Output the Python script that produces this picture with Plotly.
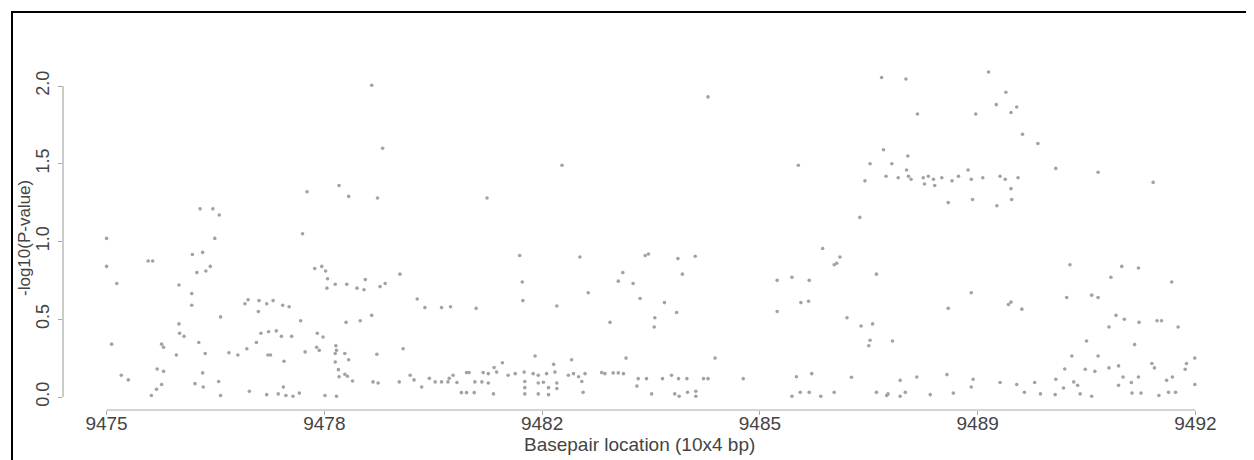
import plotly.graph_objects as go

# ---- data ----
bp_location = [
    # 9475 - 9478
    9475.00, 9475.00, 9475.16, 9475.08, 9475.23, 9475.34, 9475.65, 9475.72, 9475.70, 9475.78,
    9475.86, 9475.79, 9475.89, 9475.86, 9475.89, 9476.09, 9476.13, 9476.13, 9476.14, 9476.21,
    9476.33, 9476.33, 9476.34, 9476.41, 9476.50, 9476.55, 9476.62, 9476.69, 9476.46, 9476.66,
    9476.76, 9476.78, 9476.44, 9476.54, 9476.50, 9476.38, 9476.51, 9476.75, 9476.78, 9476.91,
    9477.05, 9477.19, 9477.23, 9477.16, 9477.21, 9477.38, 9477.50, 9477.60, 9477.75, 9477.85,
    9477.37, 9477.41, 9477.53, 9477.65, 9477.73, 9477.89, 9477.34, 9477.52, 9477.56, 9477.77,
    9477.76, 9477.50, 9477.68, 9477.80, 9477.91, 9478.01,
    # 9478 - 9481
    9478.03, 9478.06, 9478.13, 9478.10, 9478.29, 9478.38, 9478.28, 9478.32, 9478.25, 9478.36,
    9478.42, 9478.45, 9478.44, 9478.57, 9478.41, 9478.59, 9478.58, 9478.59, 9478.57, 9478.57,
    9478.62, 9478.63, 9478.72, 9478.76, 9478.84, 9478.74, 9478.96, 9478.72, 9478.78, 9478.63,
    9478.78, 9478.75, 9478.91, 9479.02, 9479.04, 9479.14, 9479.31, 9479.23, 9479.27, 9479.35,
    9479.14, 9479.22, 9479.16, 9479.24, 9479.58, 9479.63, 9479.57, 9479.74, 9479.80, 9479.92,
    9479.85, 9479.97, 9480.23, 9480.37, 9480.77, 9480.04, 9480.13, 9480.23, 9480.33, 9480.35,
    9480.41, 9480.47, 9480.62, 9480.66, 9480.88, 9480.75, 9480.86, 9480.54, 9480.62, 9480.74,
    # 9481 - 9482.5
    9480.94, 9482.11, 9481.45, 9481.49, 9481.50, 9482.39, 9482.03, 9481.69, 9482.26, 9481.18,
    9481.05, 9481.98, 9480.96, 9481.09, 9481.27, 9481.38, 9481.52, 9481.66, 9481.74, 9481.87,
    9482.00, 9482.21, 9482.29, 9482.37, 9480.96, 9481.53, 9481.74, 9481.82, 9482.03, 9482.42,
    9481.53, 9481.90, 9482.03, 9481.04, 9481.53, 9481.74, 9481.90,
    # 9482.5 - 9487
    9484.39, 9487.10, 9485.80, 9487.13, 9486.92, 9486.84, 9487.17, 9486.76, 9486.18, 9486.45,
    9486.40, 9486.36, 9487.02, 9485.47, 9485.70, 9485.97, 9485.84, 9485.96, 9485.47, 9486.56,
    9486.78, 9486.96, 9486.92, 9486.90, 9483.41, 9483.46, 9483.92, 9484.19, 9483.06, 9482.99,
    9483.22, 9483.99, 9482.52, 9483.33, 9483.71, 9483.90, 9482.86, 9483.56, 9483.55, 9483.11,
    9484.50, 9482.47, 9482.73, 9482.78, 9482.91, 9482.99, 9483.07, 9483.30, 9483.43, 9483.68,
    9483.82, 9483.93, 9484.06, 9484.32, 9484.39, 9484.94, 9485.77, 9486.01, 9486.63, 9482.44,
    9483.28, 9483.51, 9483.87, 9483.94, 9484.07, 9484.20, 9484.20, 9485.70, 9485.83, 9485.97,
    9486.15, 9486.36, 9487.02, 9487.18,
    # 9487 - 9492
    9487.48, 9488.77, 9487.66, 9488.57, 9489.04, 9488.89, 9489.21, 9489.12, 9489.30, 9489.54,
    9489.82, 9490.48, 9491.34, 9487.26, 9487.51, 9487.36, 9487.52, 9487.56, 9487.75, 9487.83,
    9487.91, 9488.04, 9488.20, 9488.30, 9488.50, 9488.68, 9488.95, 9489.03, 9489.23, 9487.49,
    9488.45, 9487.77, 9487.93, 9489.12, 9489.13, 9488.14, 9488.52, 9488.90, 9490.04, 9490.85,
    9491.11, 9490.68, 9491.63, 9489.99, 9490.38, 9490.48, 9488.50, 9488.14, 9489.08, 9489.12,
    9489.29, 9487.27, 9490.76, 9490.89, 9491.12, 9491.40, 9491.47, 9491.73, 9490.65, 9490.30,
    9491.05, 9490.07, 9490.48, 9489.96, 9490.28, 9490.43, 9490.65, 9490.80, 9491.32, 9491.36,
    9491.86, 9491.99, 9491.84, 9487.39, 9487.65, 9488.12, 9488.53, 9488.50, 9488.95, 9489.21,
    9489.49, 9489.82, 9489.94, 9490.10, 9490.16, 9490.87, 9491.00, 9491.11, 9490.80, 9491.55,
    9491.64, 9491.99, 9487.20, 9487.39, 9487.47, 9487.86, 9488.22, 9489.33, 9489.58, 9489.81,
    9490.20, 9490.38, 9491.01, 9491.15, 9491.43, 9491.58, 9491.69,
]

neg_log10_p = [
    # 9475 - 9478
    1.02, 0.84, 0.73, 0.34, 0.14, 0.11, 0.875, 0.875, 0.01, 0.05,
    0.08, 0.18, 0.165, 0.34, 0.32, 0.27, 0.47, 0.72, 0.41, 0.39,
    0.59, 0.665, 0.916, 0.80, 0.93, 0.81, 0.84, 1.02, 1.21, 1.21,
    1.17, 0.515, 0.35, 0.28, 0.155, 0.086, 0.064, 0.10, 0.01, 0.285,
    0.27, 0.31, 0.037, 0.60, 0.625, 0.62, 0.60, 0.62, 0.59, 0.58,
    0.55, 0.41, 0.42, 0.425, 0.39, 0.39, 0.35, 0.27, 0.27, 0.23,
    0.064, 0.015, 0.02, 0.01, 0.005, 0.025,
    # 9478 - 9481
    0.49, 1.05, 1.32, 0.29, 0.41, 0.386, 0.32, 0.30, 0.826, 0.84,
    0.81, 0.76, 0.70, 0.725, 0.01, 0.005, 0.33, 0.30, 0.28, 0.225,
    0.176, 0.13, 0.146, 0.133, 0.103, 0.48, 0.49, 0.28, 0.24, 1.36,
    1.29, 0.725, 0.70, 0.69, 0.755, 2.005, 1.60, 1.28, 0.71, 0.73,
    0.525, 0.275, 0.097, 0.09, 0.79, 0.31, 0.097, 0.14, 0.11, 0.064,
    0.63, 0.575, 0.575, 0.58, 0.57, 0.12, 0.097, 0.097, 0.097, 0.12,
    0.14, 0.093, 0.157, 0.157, 0.157, 0.097, 0.097, 0.028, 0.028, 0.028,
    # 9481 - 9482.5
    1.28, 1.49, 0.91, 0.74, 0.62, 0.90, 0.585, 0.264, 0.24, 0.22,
    0.19, 0.21, 0.15, 0.16, 0.14, 0.15, 0.16, 0.15, 0.14, 0.15,
    0.16, 0.14, 0.15, 0.13, 0.09, 0.10, 0.09, 0.095, 0.09, 0.10,
    0.06, 0.06, 0.055, 0.02, 0.02, 0.02, 0.015,
    # 9482.5 - 9487
    1.93, 2.055, 1.49, 1.59, 1.50, 1.39, 1.42, 1.155, 0.955, 0.90,
    0.86, 0.85, 0.79, 0.75, 0.77, 0.75, 0.607, 0.616, 0.55, 0.51,
    0.457, 0.47, 0.365, 0.33, 0.91, 0.92, 0.89, 0.905, 0.80, 0.745,
    0.73, 0.79, 0.67, 0.633, 0.607, 0.543, 0.48, 0.51, 0.45, 0.25,
    0.25, 0.15, 0.157, 0.15, 0.155, 0.155, 0.15, 0.118, 0.118, 0.118,
    0.14, 0.118, 0.118, 0.118, 0.118, 0.118, 0.13, 0.15, 0.127, 0.03,
    0.07, 0.02, 0.02, 0.005, 0.03, 0.037, 0.005, 0.005, 0.03, 0.03,
    0.005, 0.03, 0.03, 0.01,
    # 9487 - 9492
    2.045, 2.09, 1.82, 1.82, 1.96, 1.88, 1.865, 1.83, 1.69, 1.63,
    1.47, 1.445, 1.38, 1.50, 1.55, 1.41, 1.42, 1.40, 1.41, 1.42,
    1.40, 1.41, 1.39, 1.42, 1.40, 1.41, 1.42, 1.40, 1.41, 1.46,
    1.46, 1.37, 1.36, 1.34, 1.27, 1.25, 1.27, 1.23, 0.85, 0.84,
    0.83, 0.77, 0.74, 0.64, 0.655, 0.64, 0.67, 0.57, 0.595, 0.61,
    0.565, 0.36, 0.525, 0.50, 0.48, 0.49, 0.49, 0.45, 0.45, 0.36,
    0.337, 0.264, 0.264, 0.18, 0.178, 0.165, 0.187, 0.20, 0.215, 0.187,
    0.215, 0.25, 0.178, 0.107, 0.129, 0.144, 0.114, 0.064, 0.093, 0.08,
    0.093, 0.114, 0.058, 0.097, 0.075, 0.129, 0.093, 0.129, 0.075, 0.107,
    0.129, 0.08, 0.02, 0.005, 0.03, 0.015, 0.025, 0.03, 0.02, 0.015,
    0.02, 0.005, 0.025, 0.025, 0.01, 0.03, 0.03,
]

x_tick_vals = [9475, 9478.4, 9481.8, 9485.2, 9488.6, 9492]
x_tick_text = ["9475", "9478", "9482", "9485", "9489", "9492"]
y_tick_vals = [0.0, 0.5, 1.0, 1.5, 2.0]
y_tick_text = ["0.0", "0.5", "1.0", "1.5", "2.0"]

x_title = "Basepair location (10x4 bp)"
y_title = "-log10(P-value)"

# ---- layout constants (figure pixels; page body adds an 8px offset) ----
OFF = 8
W, H = 1254 - OFF, 460 - OFF
ML, MR, MT, MB = 63 - OFF, 15, 59 - OFF, 50
PW, PH = W - ML - MR, H - MT - MB

def px_x(p):          # screen px -> paper x
    return (p - OFF - ML) / PW

def px_y(p):          # screen px -> paper y
    return (H - MB - (p - OFF)) / PH

# R-style 4% axis extension
x_lo, x_hi = min(x_tick_vals), max(x_tick_vals)
x_pad = 0.04 * (x_hi - x_lo)
y_lo, y_hi = 0.0, max(neg_log10_p)
y_pad = 0.04 * (y_hi - y_lo)

FONT = "Liberation Sans, Arial, sans-serif"
AXIS_COL = "#a8a8a8"
TEXT_COL = "#444444"

fig = go.Figure()
fig.add_trace(go.Scatter(
    x=bp_location, y=neg_log10_p, mode="markers",
    marker=dict(size=3.6, color="#a2a2a2", line=dict(width=0)),
    hoverinfo="x+y", showlegend=False,
))

shapes = [
    # partial y axis line (R style)
    dict(type="line", xref="paper", yref="y", x0=0, x1=0,
         y0=min(y_tick_vals), y1=max(y_tick_vals),
         line=dict(color=AXIS_COL, width=1.2)),
    # partial x axis line
    dict(type="line", xref="x", yref="paper", x0=x_lo, x1=x_hi, y0=0, y1=0,
         line=dict(color=AXIS_COL, width=1.2)),
    # outer black frame (top and left visible)
    dict(type="rect", xref="paper", yref="paper",
         x0=px_x(12), x1=px_x(1300), y0=px_y(520), y1=px_y(12),
         line=dict(color="black", width=2), fillcolor="rgba(0,0,0,0)"),
]

annotations = [
    dict(text=x_title, xref="paper", yref="paper", x=px_x(639), y=px_y(444),
         xanchor="center", yanchor="middle", showarrow=False,
         font=dict(family=FONT, size=19, color=TEXT_COL)),
    dict(text=y_title, xref="paper", yref="paper", x=px_x(24), y=px_y(238),
         xanchor="center", yanchor="middle", textangle=-90, showarrow=False,
         font=dict(family=FONT, size=17, color=TEXT_COL)),
]

fig.update_layout(
    width=W, height=H,
    margin=dict(l=ML, r=MR, t=MT, b=MB, pad=0),
    paper_bgcolor="white", plot_bgcolor="white",
    shapes=shapes, annotations=annotations,
    xaxis=dict(
        range=[x_lo - x_pad, x_hi + x_pad],
        tickvals=x_tick_vals, ticktext=x_tick_text,
        ticks="outside", ticklen=4, tickcolor=AXIS_COL, tickwidth=1,
        ticklabelstandoff=-8,
        showline=False, showgrid=False, zeroline=False,
        tickfont=dict(family=FONT, size=19, color=TEXT_COL),
    ),
    yaxis=dict(
        range=[y_lo - y_pad, y_hi + y_pad],
        tickvals=y_tick_vals, ticktext=y_tick_text,
        ticks="outside", ticklen=4, tickcolor=AXIS_COL, tickwidth=1,
        tickangle=-90, ticklabelstandoff=2,
        showline=False, showgrid=False, zeroline=False,
        tickfont=dict(family=FONT, size=18, color=TEXT_COL),
    ),
)

fig.write_html("out.html")
